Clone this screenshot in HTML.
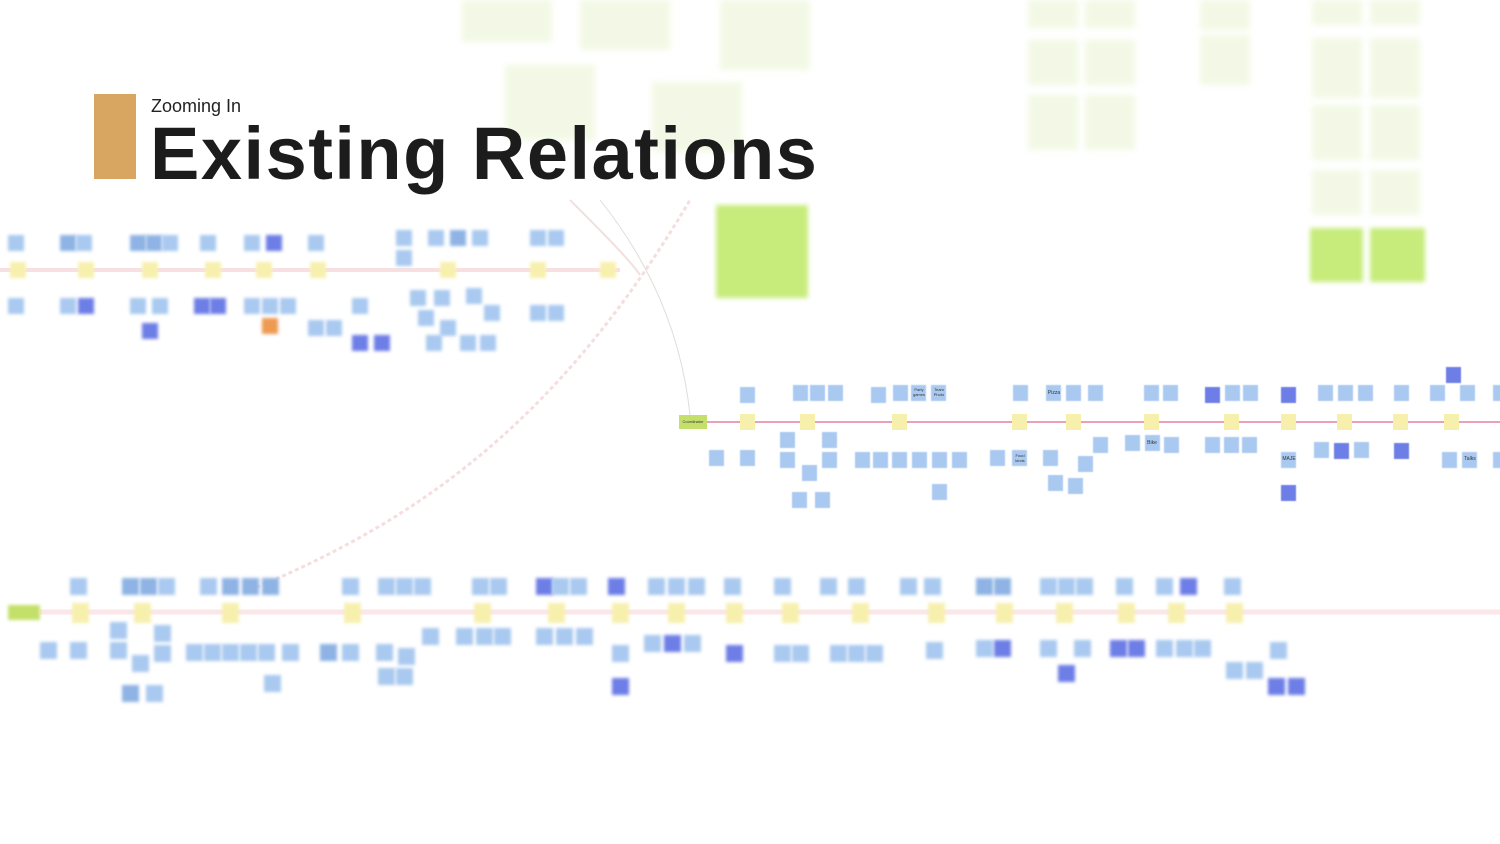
<!DOCTYPE html>
<html><head><meta charset="utf-8">
<style>
html,body{margin:0;padding:0;background:#fff;}
body{width:1500px;height:844px;position:relative;overflow:hidden;font-family:"Liberation Sans",sans-serif;}
.b{position:absolute;}
.blur{filter:blur(1.5px);}
.fade{filter:blur(3px);opacity:.6;}
#t1{position:absolute;left:151px;top:96px;font-size:18px;color:#222;}
#t2{position:absolute;left:150px;top:114px;font-size:74px;font-weight:bold;color:#1c1c1c;letter-spacing:1.5px;line-height:80px;white-space:nowrap;}
#bar{position:absolute;left:94px;top:94px;width:42px;height:85px;background:#d9a662;}
.n{position:absolute;font-size:4px;color:#333;overflow:hidden;text-align:center;}
</style></head><body>
<div id="L"></div>
<div id="bar"></div>
<div id="t1">Zooming In</div>
<div id="t2">Existing Relations</div>
<script>
var L=document.getElementById('L');
function box(x,y,w,h,c,cls,extra){var d=document.createElement('div');d.className='b '+(cls||'');d.style.cssText='left:'+x+'px;top:'+y+'px;width:'+w+'px;height:'+h+'px;background:'+c+';'+(extra||'');L.appendChild(d);return d;}
var BL='#a9c9f0',BM='#8eb3e4',BD='#6d7ee6',YE='#f7f0ad',GR='#c4e06a';
var fg='#eaf5d4';
[[462,0,90,42],[580,0,90,50],[720,0,90,70],[505,65,90,75],[652,82,90,70],[1028,0,50,28],[1085,0,50,28],[1028,40,50,45],[1085,40,50,45],[1028,95,50,55],[1085,95,50,55],[1200,0,50,30],[1200,35,50,50],[1312,0,50,25],[1370,0,50,25],[1312,38,50,60],[1370,38,50,60],[1312,105,50,55],[1370,105,50,55],[1312,170,50,45],[1370,170,50,45]].forEach(function(a){box(a[0],a[1],a[2],a[3],fg,'fade');});
box(716,205,92,93,'#c7ec7c','blur','filter:blur(2.5px)');
box(1310,228,53,54,'#c7ec7c','blur','filter:blur(2.5px)');
box(1370,228,55,54,'#c7ec7c','blur','filter:blur(2.5px)');
var s=document.createElementNS('http://www.w3.org/2000/svg','svg');
s.setAttribute('width','1500');s.setAttribute('height','844');s.style.cssText='position:absolute;left:0;top:0';
s.innerHTML='<path d="M250 590 C420 520 560 420 690 200" stroke="#f6dede" stroke-width="3" fill="none" stroke-dasharray="4 3"/><path d="M600 200 C640 250 680 320 690 415" stroke="#ddd" stroke-width="1" fill="none"/><path d="M570 200 C600 230 630 260 640 275" stroke="#f2e0e0" stroke-width="2" fill="none"/>'+
'<line x1="0" y1="270" x2="620" y2="270" stroke="#f8e0e2" stroke-width="4"/>'+
'<line x1="40" y1="612" x2="1500" y2="612" stroke="#fbe6e8" stroke-width="5"/>'+
'<line x1="707" y1="422" x2="1500" y2="422" stroke="#e4809e" stroke-width="1.5"/>';
L.appendChild(s);
var ul=[[8,235,BL],[8,298,BL],[60,235,BM],[76,235,BL],[60,298,BL],[78,298,BD],[130,235,BM],[146,235,BM],[162,235,BL],[130,298,BL],[152,298,BL],[142,323,BD],[200,235,BL],[194,298,BD],[210,298,BD],[244,235,BL],[266,235,BD],[244,298,BL],[262,298,BL],[280,298,BL],[262,318,'#ee9a52'],[308,235,BL],[308,320,BL],[326,320,BL],[352,298,BL],[352,335,BD],[374,335,BD],[396,230,BL],[396,250,BL],[428,230,BL],[450,230,BM],[472,230,BL],[410,290,BL],[434,290,BL],[466,288,BL],[418,310,BL],[440,320,BL],[484,305,BL],[426,335,BL],[460,335,BL],[480,335,BL],[530,230,BL],[548,230,BL],[530,305,BL],[548,305,BL]];
ul.forEach(function(a){box(a[0],a[1],16,16,a[2],'blur');});
[10,78,142,205,256,310,440,530,600].forEach(function(x){box(x,262,16,16,YE,'blur');});
box(8,605,32,15,GR,'blur');
var bl=[[70,578,BL],[122,578,BM],[140,578,BM],[158,578,BL],[200,578,BL],[222,578,BM],[242,578,BM],[262,578,BM],[342,578,BL],[378,578,BL],[396,578,BL],[414,578,BL],[472,578,BL],[490,578,BL],[536,578,BD],[552,578,BL],[570,578,BL],[608,578,BD],[648,578,BL],[668,578,BL],[688,578,BL],[724,578,BL],[774,578,BL],[820,578,BL],[848,578,BL],[900,578,BL],[924,578,BL],[976,578,BM],[994,578,BM],[1040,578,BL],[1058,578,BL],[1076,578,BL],[1116,578,BL],[1156,578,BL],[1180,578,BD],[1224,578,BL],
[40,642,BL],[70,642,BL],[110,622,BL],[110,642,BL],[154,625,BL],[154,645,BL],[132,655,BL],[122,685,BM],[146,685,BL],[186,644,BL],[204,644,BL],[222,644,BL],[240,644,BL],[258,644,BL],[282,644,BL],[264,675,BL],[320,644,BM],[342,644,BL],[376,644,BL],[398,648,BL],[422,628,BL],[378,668,BL],[396,668,BL],[456,628,BL],[476,628,BL],[494,628,BL],[536,628,BL],[556,628,BL],[576,628,BL],[612,645,BL],[612,678,BD],[644,635,BL],[664,635,BD],[684,635,BL],[726,645,BD],[774,645,BL],[792,645,BL],[830,645,BL],[848,645,BL],[866,645,BL],[926,642,BL],[976,640,BL],[994,640,BD],[1040,640,BL],[1074,640,BL],[1058,665,BD],[1110,640,BD],[1128,640,BD],[1156,640,BL],[1176,640,BL],[1194,640,BL],[1226,662,BL],[1246,662,BL],[1270,642,BL],[1268,678,BD],[1288,678,BD]];
bl.forEach(function(a){box(a[0],a[1],17,17,a[2],'blur');});
[72,134,222,344,474,548,612,668,726,782,852,928,996,1056,1118,1168,1226].forEach(function(x){box(x,603,17,20,YE,'blur');});
var mb=[[740,387],[793,385],[810,385],[828,385],[871,387],[893,385],[911,385],[931,385],[1013,385],[1046,385],[1066,385],[1088,385],[1144,385],[1163,385],[1225,385],[1243,385],[1318,385],[1338,385],[1358,385],[1394,385],[1430,385],[1460,385],[1493,385],
[709,450],[740,450],[780,432],[780,452],[822,432],[822,452],[802,465],[792,492],[815,492],[855,452],[873,452],[892,452],[912,452],[932,452],[952,452],[932,484],[990,450],[1012,450],[1043,450],[1078,456],[1048,475],[1068,478],[1093,437],[1125,435],[1145,435],[1164,437],[1205,437],[1224,437],[1242,437],[1281,452],[1314,442],[1354,442],[1442,452],[1462,452],[1493,452]];
mb.forEach(function(a){box(a[0],a[1],15,16,BL,'','filter:blur(.4px)');});
[[1205,387],[1281,387],[1334,443],[1394,443],[1446,367],[1281,485]].forEach(function(a){box(a[0],a[1],15,16,BD,'','filter:blur(.4px)');});
[740,800,892,1012,1066,1144,1224,1281,1337,1393,1444].forEach(function(x){box(x,414,15,16,YE);});
box(679,415,28,14,GR);
</script>
<div class="n" style="left:679px;top:419px;width:28px">Coordinator</div>
<div class="n" style="left:1046px;top:390px;width:16px;font-size:5px">Pizza</div>
<div class="n" style="left:1144px;top:440px;width:16px;font-size:5px">Bike</div>
<div class="n" style="left:1281px;top:456px;width:16px;font-size:5px">MAJE</div>
<div class="n" style="left:1462px;top:456px;width:16px;font-size:5px">Talks</div>
<div class="n" style="left:1012px;top:453px;width:16px;font-size:4px">Food kinds</div>
<div class="n" style="left:911px;top:387px;width:16px;font-size:4px">Party games</div>
<div class="n" style="left:931px;top:387px;width:16px;font-size:4px">Team Photo</div>
</body></html>
